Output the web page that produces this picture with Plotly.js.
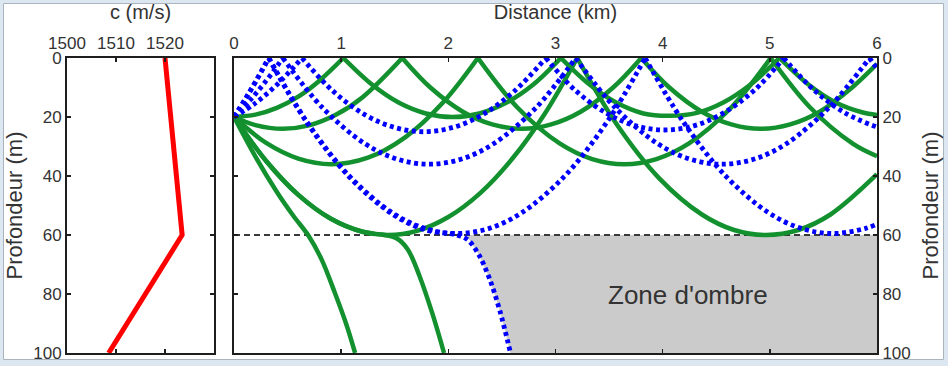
<!DOCTYPE html>
<html>
<head>
<meta charset="utf-8">
<script src="https://cdn.plot.ly/plotly-3.0.1.min.js"></script>
<style>
html,body{margin:0;padding:0;background:#dde7f1;}
#chart{width:948px;height:366px;}
</style>
</head>
<body>
<div id="chart"></div>
<script>
// ---- sound speed profile (left panel) ----
const profileDepth = [0, 60, 100];
const soundSpeed = [1520, 1523.5, 1508.5];
const speedTicks = [1500, 1510, 1520];
const depthTicks = [0, 20, 40, 60, 80, 100];
const distanceTicks = [0, 1, 2, 3, 4, 5, 6];

// ---- green rays (solid) : distance km / depth m ----
const g1x = [0, 0.2, 0.4, 0.6, 0.8, 1.02, null, 1.02, 1.29, 1.54, 1.79, 2.04, 2.29, 2.54, 2.79, 3.05, null, 3.05, 3.32, 3.57, 3.82, 4.07, 4.32, 4.57, 4.82, 5.09, null, 5.09, 5.36, 5.61, 5.86, 6.0];
const g1z = [20, 19.2, 16.9, 13.1, 7.6, 0, null, 0, 9.1, 15.2, 18.8, 20, 18.8, 15.2, 9.1, 0, null, 0, 9.1, 15.2, 18.8, 19.6, 18.6, 15.0, 9.0, 0, null, 0, 9.0, 15.0, 18.4, 19.3];
const g2x = [0, 0.2, 0.455, 0.7, 0.95, 1.2, 1.57, null, 1.57, 1.835, 2.135, 2.41, 2.685, 2.96, 3.235, 3.535, 3.80, null, 3.80, 4.065, 4.365, 4.64, 4.915, 5.19, 5.465, 5.765, 6.0];
const g2z = [20, 22.75, 24, 22.84, 19.27, 13.29, 0, null, 0, 10.1, 18.2, 22.5, 24, 22.5, 18.2, 10.1, 0, null, 0, 10.1, 18.2, 22.5, 24, 22.5, 18.2, 10.1, 2.0];
const g3x = [0, 0.3, 0.6, 0.91, 1.25, 1.6, 1.95, 2.276, null, 2.276, 2.642, 3.042, 3.342, 3.642, 3.942, 4.242, 4.642, 5.008, null, 5.008, 5.374, 5.774, 6.0];
const g3z = [20, 28.8, 34.1, 36, 33.8, 26.8, 15.1, 0, null, 0, 16.7, 29.05, 34.26, 36, 34.26, 29.05, 16.7, 0, null, 0, 16.7, 29.05, 33.3];
const g4x = [0, 0.3, 0.6, 0.9, 1.2, 1.44, 1.7, 2.0, 2.3, 2.6, 2.9, 3.203, null, 3.203, 3.566, 3.966, 4.366, 4.666, 4.966, 5.266, 5.566, 6.0];
const g4z = [20, 34.9, 46.4, 54.4, 58.9, 60, 58.7, 53.9, 45.7, 34.0, 18.9, 0, null, 0, 22.2, 40.7, 53.05, 58.3, 60, 58.3, 53.05, 39.4];
const g5x = [0, 0.2, 0.4, 0.55, 0.7, 0.82, 0.94, 1.05, 1.13];
const g5z = [20, 33.45, 45.4, 53.3, 60.5, 68.5, 79.5, 90.5, 100];
const g6x = [0, 0.3, 0.6, 0.9, 1.2, 1.4, 1.52, 1.62, 1.73, 1.85, 1.96];
const g6z = [20, 34.9, 46.4, 54.4, 58.9, 60, 61.2, 64.8, 73.8, 86.5, 100];

// ---- blue rays (dotted) ----
const b0x = [0, 0.1, 0.2, 0.323, null, 0.323, 0.681, 1.081, 1.481, 1.781, 2.08, 2.18, 2.28, 2.38, 2.48, 2.58];
const b0z = [20, 14.2, 8.1, 0, null, 0, 21.9, 40.5, 53.0, 58.2, 60, 61.6, 66.4, 74.4, 85.6, 100];
const b1x = [0, 0.1, 0.2, 0.325, null, 0.325, 0.681, 1.081, 1.481, 1.781, 2.081, 2.381, 2.681, 3.081, 3.481, 3.837, null, 3.837, 4.193, 4.593, 4.993, 5.293, 5.593, 5.893, 6.0];
const b1z = [20, 14.26, 8.16, 0, null, 0, 21.67, 40.2, 52.55, 57.76, 59.5, 57.76, 52.55, 40.2, 21.67, 0, null, 0, 21.67, 40.2, 52.55, 57.76, 59.5, 57.76, 56.3];
const b2x = [0, 0.15, 0.3, 0.456, null, 0.456, 0.822, 1.222, 1.522, 1.822, 2.122, 2.422, 2.822, 3.188, null, 3.188, 3.554, 3.954, 4.254, 4.554, 4.854, 5.154, 5.554, 5.93, null, 5.93, 6.0];
const b2z = [20, 14.3, 7.74, 0, null, 0, 16.7, 29.05, 34.26, 36, 34.26, 29.05, 16.7, 0, null, 0, 16.7, 29.05, 34.26, 36, 34.26, 29.05, 16.7, 0, null, 0, 3.6];
const b3x = [0, 0.2, 0.4, 0.635, null, 0.635, 0.92, 1.22, 1.495, 1.77, 2.045, 2.32, 2.62, 2.91, null, 2.91, 3.18, 3.48, 3.75, 4.02, 4.29, 4.56, 4.86, 5.13, null, 5.13, 5.41, 5.71, 6.0];
const b3z = [20, 15.3, 9.05, 0, null, 0, 11.1, 19.2, 23.5, 25, 23.5, 19.2, 11.1, 0, null, 0, 10.8, 18.8, 23.0, 24.4, 23.0, 18.8, 10.8, 0, null, 0, 10.8, 18.8, 23.4];

// ---- shadow zone and thermocline line ----
const shadeX = [2.17, 2.28, 2.38, 2.48, 2.58, 6, 6, 2.17];
const shadeZ = [60, 66.4, 74.4, 85.6, 100, 100, 60, 60];
const layerX = [0, 6];
const layerZ = [60, 60];
const shadowLabel = "Zone d'ombre";
const shadowLabelPos = [4.24, 80.3];

const GREEN = '#14912f';
const BLUE = '#0000ff';
const FONT = 'Liberation Sans, Arial, sans-serif';

function green(x, z) {
  return {x: x, y: z, xaxis: 'x2', yaxis: 'y2', type: 'scatter', mode: 'lines', connectgaps: false,
    line: {color: GREEN, width: 4.5, shape: 'spline', smoothing: 1}, hoverinfo: 'skip', showlegend: false};
}
function blue(x, z) {
  return {x: x, y: z, xaxis: 'x2', yaxis: 'y2', type: 'scatter', mode: 'lines', connectgaps: false,
    line: {color: BLUE, width: 4.8, dash: '4px,3.5px', shape: 'spline', smoothing: 1}, hoverinfo: 'skip', showlegend: false};
}

const traces = [
  {x: soundSpeed, y: profileDepth, xaxis: 'x', yaxis: 'y', type: 'scatter', mode: 'lines',
   line: {color: '#ff0000', width: 5}, showlegend: false, hoverinfo: 'skip'},
  {x: shadeX, y: shadeZ, xaxis: 'x2', yaxis: 'y2', type: 'scatter', mode: 'lines', fill: 'toself',
   fillcolor: '#cbcbcb', line: {width: 0, color: 'rgba(0,0,0,0)', shape: 'linear'}, showlegend: false, hoverinfo: 'skip'},
  {x: layerX, y: layerZ, xaxis: 'x2', yaxis: 'y2', type: 'scatter', mode: 'lines',
   line: {color: '#3a3a3a', width: 2, dash: '6px,4px'}, showlegend: false, hoverinfo: 'skip'},
  green(g1x, g1z), green(g2x, g2z), green(g3x, g3z), green(g4x, g4z), green(g5x, g5z), green(g6x, g6z),
  blue(b0x, b0z), blue(b1x, b1z), blue(b2x, b2z), blue(b3x, b3z)
];

const W = 948, H = 366;
const yDom = [1 - 353 / H, 1 - 58 / H];
const axisCommon = {
  showgrid: false, zeroline: false, showline: true, linecolor: '#1e1e1e', linewidth: 2,
  ticks: 'inside', ticklen: 4, tickwidth: 1.5, tickcolor: '#1e1e1e', mirror: 'allticks',
  tickfont: {family: FONT, size: 17, color: '#333333'}, fixedrange: true
};

const layout = {
  width: W, height: H,
  margin: {l: 0, r: 0, t: 0, b: 0},
  paper_bgcolor: '#dde7f1',
  plot_bgcolor: '#ffffff',
  font: {family: FONT, color: '#333333'},
  xaxis: Object.assign({}, axisCommon, {
    domain: [67 / W, 214 / W], anchor: 'y', side: 'top', range: [1500, 1530],
    tickvals: speedTicks, ticktext: speedTicks.map(String),
    title: {text: 'c (m/s)', font: {family: FONT, size: 20, color: '#333333'}, standoff: 9}
  }),
  yaxis: Object.assign({}, axisCommon, {
    domain: yDom, anchor: 'x', range: [100, 0], tickvals: depthTicks,
    title: {text: 'Profondeur (m)', font: {family: FONT, size: 22, color: '#333333'}, standoff: 5}
  }),
  xaxis2: Object.assign({}, axisCommon, {
    domain: [234 / W, 877 / W], anchor: 'y2', side: 'top', range: [0, 6],
    tickvals: distanceTicks,
    title: {text: 'Distance (km)', font: {family: FONT, size: 20, color: '#333333'}, standoff: 9}
  }),
  yaxis2: Object.assign({}, axisCommon, {
    domain: yDom, anchor: 'x2', side: 'right', range: [100, 0], tickvals: depthTicks,
    title: {text: 'Profondeur (m)', font: {family: FONT, size: 22, color: '#333333'}, standoff: 13}
  }),
  shapes: [
    {type: 'rect', xref: 'paper', yref: 'paper', layer: 'below',
     x0: 3.5 / W, x1: 943.5 / W, y0: 1 - 359.5 / H, y1: 1 - 3.5 / H,
     fillcolor: '#ffffff', line: {color: '#a9b4bf', width: 1}}
  ],
  annotations: [
    {x: shadowLabelPos[0], y: shadowLabelPos[1], xref: 'x2', yref: 'y2', text: shadowLabel,
     showarrow: false, font: {family: FONT, size: 26, color: '#333333'}}
  ]
};

Plotly.newPlot('chart', traces, layout, {displayModeBar: false, staticPlot: true});
</script>
</body>
</html>
